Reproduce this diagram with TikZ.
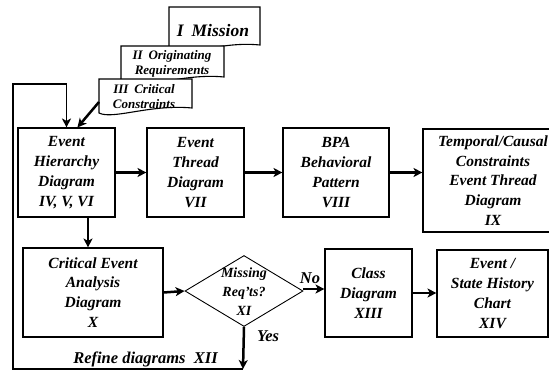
\documentclass[tikz,border=0pt]{standalone}
\usepackage{fontspec}
\setmainfont{Liberation Serif}
\usetikzlibrary{arrows.meta,shapes.geometric}
\begin{document}
\begin{tikzpicture}[x=1pt,y=-1pt,
  lbl/.style={font=\fontsize{15.5}{19.8}\selectfont\bfseries\itshape,align=center,inner sep=0pt},
  box/.style={lbl,draw,line width=1.1pt,fill=white},
  doc/.style={draw,line width=1.1pt,fill=white},
  doctext/.style={font=\fontsize{13}{15}\selectfont\bfseries\itshape,align=center,inner sep=0pt},
  arr/.style={line width=2.5pt,-{Stealth[length=9pt,width=9pt,inset=2.5pt]}},
  looparr/.style={line width=1.7pt,-{Stealth[length=9pt,width=9pt,inset=2.5pt]}}
]
\useasboundingbox (0,0) rectangle (549,372);
\clip (0,0) rectangle (549,372);

% stacked source documents
\draw[doc] (169,7) -- (260,7) -- (260,45)
  .. controls (220,41) and (190,57) .. (169,50) -- cycle;
\node[lbl,font=\fontsize{17.5}{20}\selectfont\bfseries\itshape] (mission) at (213,31) {I\hspace{0.45em}Mission};

\draw[doc] (121,46) -- (224,46) -- (224,77)
  .. controls (184,73) and (150,89) .. (121,82) -- cycle;
\node[doctext] (orig) at (172,63.5) {II\hspace{0.45em}Originating\\Requirements};

\draw[doc] (99,79) -- (192,79) -- (192,108)
  .. controls (150,104) and (113,120) .. (99,113) -- cycle;
\node[doctext] (crit) at (144,97) {III\hspace{0.45em}Critical\\Constraints};
\coordinate (critL) at (99,102);

% top row
\node[box,minimum width=97,minimum height=89] (ehd) at (66.5,172.5) {Event\\Hierarchy\\Diagram\\IV, V, VI};
\node[box,minimum width=97,minimum height=89] (etd) at (195.5,172.5) {Event\\Thread\\Diagram\\VII};
\node[box,minimum width=106,minimum height=89] (bpa) at (336,172.5) {BPA\\Behavioral\\Pattern\\VIII};
\node[box,minimum width=140,minimum height=103] (tcd) at (493,180.5) {Temporal/Causal\\Constraints\\Event Thread\\Diagram\\IX};

% bottom row
\node[box,minimum width=140,minimum height=89] (cea) at (93,292.5) {Critical Event\\Analysis\\Diagram\\X};
\node[diamond,draw,line width=0.9pt,minimum width=118,minimum height=71,inner sep=0pt] (miss) at (244,291) {};
\node[lbl,font=\fontsize{14}{19}\selectfont\bfseries\itshape] (misstext) at (244,292) {Missing\\Req’ts?\\XI};
\node[box,minimum width=87,minimum height=88] (cls) at (368.5,293) {Class\\Diagram\\XIII};
\node[box,minimum width=111,minimum height=87] (esh) at (492.5,293.5) {Event /\\State History\\Chart\\XIV};

% connectors
\draw[arr] (critL) -- ([xshift=60pt]ehd.north west);
\draw[arr] (ehd.east) -- (etd.west);
\draw[arr] (etd.east) -- (bpa.west);
\draw[arr] (bpa.east) -- (bpa.east -| tcd.west);
\draw[arr] ([xshift=21.5pt]ehd.south) -- ([xshift=-5pt]cea.north);
\draw[arr] (cea.east) -- (miss.west);
\draw[arr] ([yshift=2pt]miss.east) -- ([yshift=2pt]miss.east -| cls.west);
\draw[arr] (cls.east) -- (cls.east -| esh.west);

% refinement loop
\coordinate (ybot) at (243,369);
\coordinate (lb) at (13,369);
\coordinate (lt) at (13,84);
\draw[arr] (miss.south) -- (ybot);
\draw[looparr] (ybot) -- (lb) -- (lt) -| (ehd.north);

% labels
\node[lbl,font=\fontsize{16.5}{20}\selectfont\bfseries\itshape] (no) at (310,278) {No};
\node[lbl,font=\fontsize{16.5}{20}\selectfont\bfseries\itshape] (yes) at (268,336) {Yes};
\node[lbl,font=\fontsize{16.5}{20}\selectfont\bfseries\itshape,anchor=base] (refine) at (145.5,363) {Refine diagrams\hspace{0.5em}XII};
\end{tikzpicture}
\end{document}
